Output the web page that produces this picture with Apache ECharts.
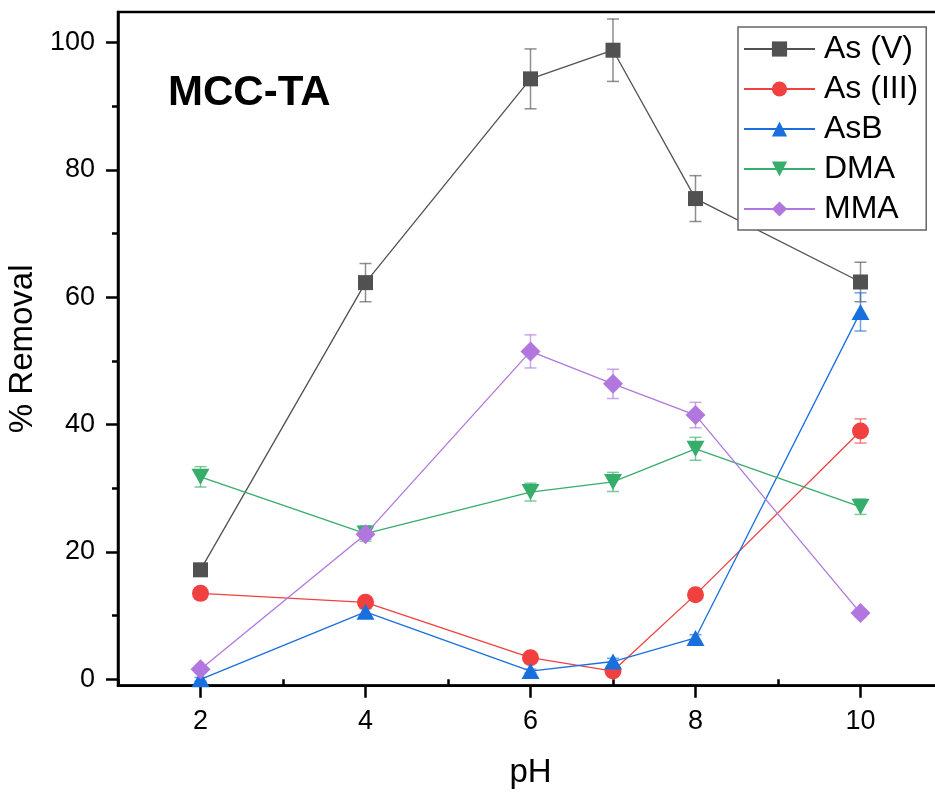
<!DOCTYPE html>
<html>
<head>
<meta charset="utf-8">
<script src="https://cdn.jsdelivr.net/npm/echarts@6/dist/echarts.min.js"></script>
<style>
  html, body { margin: 0; padding: 0; background: #fff; }
  #chart { width: 935px; height: 792px; }
</style>
</head>
<body>
<div id="chart"></div>
<script>
// pH values of the adsorption runs
const pH = [2, 4, 6, 7, 8, 10];

// % removal per arsenic species, with standard deviations
const asV      = [17.2, 62.3, 94.3, 98.8, 75.5, 62.4];
const asVErr   = [0.8, 3.0, 4.7, 4.9, 3.6, 3.1];
const asIII    = [13.5, 12.1, 3.4, 1.3, 13.3, 39.0];
const asIIIErr = [0.5, 0.5, 0.5, 0.5, 0.5, 1.9];
const asB      = [0.0, 10.6, 1.3, 2.8, 6.5, 57.7];
const asBErr   = [0.3, 0.5, 0.3, 0.5, 0.5, 3.0];
const dma      = [31.8, 22.9, 29.4, 31.0, 36.2, 27.1];
const dmaErr   = [1.6, 1.2, 1.4, 1.5, 1.8, 1.2];
const mma      = [1.6, 22.8, 51.5, 46.4, 41.5, 10.4];
const mmaErr   = [0.4, 0.8, 2.6, 2.3, 2.0, 0.6];

// axis tick positions
const xMajorTicks = [2, 4, 6, 8, 10];
const xMinorTicks = [1, 3, 5, 7, 9];
const yMajorTicks = [0, 20, 40, 60, 80, 100];
const yMinorTicks = [10, 30, 50, 70, 90];

const FONT = 'Arial, "Liberation Sans", sans-serif';

const speciesList = [
  { name: 'As (V)',   values: asV,   errors: asVErr,   color: '#515151', symbol: 'rect',     size: 15 },
  { name: 'As (III)', values: asIII, errors: asIIIErr, color: '#F14040', symbol: 'circle',   size: 17 },
  { name: 'AsB',      values: asB,   errors: asBErr,   color: '#1A6FDF', symbol: 'triangle', size: [18, 16] },
  { name: 'DMA',      values: dma,   errors: dmaErr,   color: '#37AD6B', symbol: 'path://M0,0 L10,0 L5,9 Z', size: [18, 16] },
  { name: 'MMA',      values: mma,   errors: mmaErr,   color: '#B177DE', symbol: 'diamond',  size: 20 }
];

function errorBarItem(params, api) {
  const x = api.value(0);
  const top = api.coord([x, api.value(2)]);
  const bottom = api.coord([x, api.value(1)]);
  const hw = 6;
  const style = { stroke: api.visual('color'), lineWidth: 1.5, opacity: 0.65 };
  return {
    type: 'group',
    children: [
      { type: 'line', shape: { x1: top[0], y1: top[1], x2: bottom[0], y2: bottom[1] }, style: style },
      { type: 'line', shape: { x1: top[0] - hw, y1: top[1], x2: top[0] + hw, y2: top[1] }, style: style },
      { type: 'line', shape: { x1: bottom[0] - hw, y1: bottom[1], x2: bottom[0] + hw, y2: bottom[1] }, style: style }
    ]
  };
}

const series = [];
speciesList.forEach(function (s, k) {
  series.push({
    name: s.name + ' error',
    type: 'custom',
    renderItem: errorBarItem,
    itemStyle: { color: s.color },
    data: pH.map(function (x, i) { return [x, s.values[i] - s.errors[i], s.values[i] + s.errors[i]]; }),
    z: 2 + k * 0.1,
    silent: true,
    clip: false
  });
  series.push({
    name: s.name,
    type: 'line',
    data: pH.map(function (x, i) { return [x, s.values[i]]; }),
    symbol: s.symbol,
    symbolSize: s.size,
    showAllSymbol: true,
    clip: false,
    lineStyle: { color: s.color, width: 1.3 },
    itemStyle: { color: s.color, opacity: 1 },
    z: 3 + k * 0.1,
    animation: false
  });
});

const chart = echarts.init(document.getElementById('chart'), null, { renderer: 'canvas' });

chart.setOption({
  animation: false,
  backgroundColor: '#ffffff',
  grid: {
    left: 118,
    top: 12,
    width: 825,
    height: 673.7,
    outerBoundsMode: 'none',
    containLabel: false,
    show: true,
    borderColor: '#000',
    borderWidth: 2.5,
    backgroundColor: 'transparent'
  },
  xAxis: [
    {
      type: 'value',
      min: 1,
      max: 11,
      position: 'bottom',
      name: 'pH',
      nameLocation: 'middle',
      nameGap: 71,
      nameTextStyle: { fontFamily: FONT, fontSize: 33, color: '#000' },
      axisLine: { show: true, onZero: false, lineStyle: { color: '#000', width: 2.5 } },
      axisTick: { show: true, inside: false, length: 12, customValues: xMajorTicks, lineStyle: { color: '#000', width: 2.5 } },
      axisLabel: { customValues: xMajorTicks, margin: 22, fontFamily: FONT, fontSize: 27, color: '#000' },
      splitLine: { show: false }
    },
    {
      type: 'value',
      min: 1,
      max: 11,
      position: 'bottom',
      axisLine: { show: false },
      axisTick: { show: true, inside: false, length: 6, customValues: xMinorTicks, lineStyle: { color: '#000', width: 2.5 } },
      axisLabel: { show: false },
      splitLine: { show: false }
    }
  ],
  yAxis: [
    {
      type: 'value',
      min: -1,
      max: 104.8,
      position: 'left',
      name: '% Removal',
      nameLocation: 'middle',
      nameGap: 74,
      nameRotate: 90,
      nameTextStyle: { fontFamily: FONT, fontSize: 33, color: '#000' },
      axisLine: { show: true, onZero: false, lineStyle: { color: '#000', width: 2.5 } },
      axisTick: { show: true, inside: false, length: 12, customValues: yMajorTicks, lineStyle: { color: '#000', width: 2.5 } },
      axisLabel: { customValues: yMajorTicks, margin: 23, fontFamily: FONT, fontSize: 27, color: '#000' },
      splitLine: { show: false }
    },
    {
      type: 'value',
      min: -1,
      max: 104.8,
      position: 'left',
      axisLine: { show: false },
      axisTick: { show: true, inside: false, length: 6, customValues: yMinorTicks, lineStyle: { color: '#000', width: 2.5 } },
      axisLabel: { show: false },
      splitLine: { show: false }
    }
  ],
  legend: {
    data: speciesList.map(function (s) { return s.name; }),
    orient: 'vertical',
    left: 738,
    top: 27,
    padding: [6, 8, 5, 5],
    itemGap: 8,
    itemWidth: 71,
    itemHeight: 19,
    backgroundColor: '#fff',
    borderColor: '#666',
    borderWidth: 1.5,
    borderRadius: 0,
    textStyle: { fontFamily: FONT, fontSize: 32, color: '#000', lineHeight: 32, padding: [0, 0, 0, 4] }
  },
  graphic: [
    {
      type: 'text',
      left: 168,
      top: 72,
      style: { text: 'MCC-TA', fontFamily: FONT, fontSize: 42, fontWeight: 'bold', fill: '#000' },
      z: 10
    }
  ],
  series: series
});
</script>
</body>
</html>
